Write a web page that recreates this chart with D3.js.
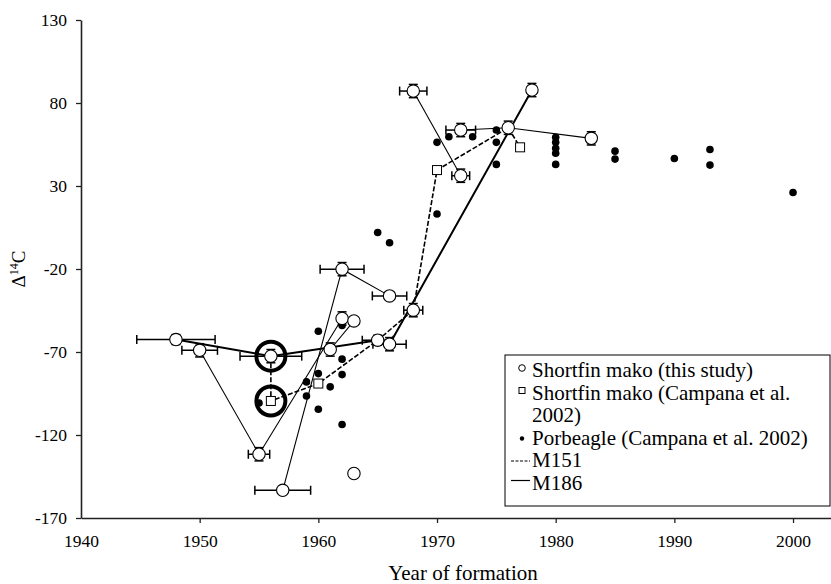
<!DOCTYPE html>
<html>
<head>
<meta charset="utf-8">
<script src="https://cdn.jsdelivr.net/npm/d3@7"></script>
<style>
  body { margin: 0; background: #fff; }
  #chart { width: 831px; height: 584px; }
  svg text { font-family: "Liberation Serif", "Times New Roman", serif !important; fill: #000; }
</style>
</head>
<body>
<div id="chart"></div>
<script>
// Shortfin mako (this study): open circles with error bars
const mako_year = [1948, 1950, 1956, 1955, 1957, 1962, 1966, 1962, 1963, 1961, 1965, 1966, 1963, 1968, 1968, 1978, 1972, 1976, 1972, 1983];
const mako_d14c = [-62.5, -69, -72.5, -131.6, -153.3, -20.1, -36.2, -49.8, -51.3, -68.5, -62.9, -65.3, -143.2, -44.8, 87.2, 87.8, 63.7, 65.1, 36.2, 58.7];
const mako_xerr = [3.3, 1.5, 2.6, 0.9, 2.35, 1.85, 1.45, 0, 0, 0, 1.3, 1.4, 0, 0.8, 1.15, 0, 1.25, 0, 0.75, 0];
const mako_yerr = [3, 4, 4, 4, 0, 4, 0, 4, 0, 4, 3, 4, 0, 4, 4, 4, 4, 4, 4, 4];

// Shortfin mako (Campana et al. 2002): open squares
const campana_year = [1956, 1960, 1970, 1977];
const campana_d14c = [-99.5, -89, 39.6, 53.3];

// Porbeagle (Campana et al. 2002): filled dots
const porbeagle_year = [1955, 1959, 1959, 1960, 1960, 1960, 1961, 1962, 1962, 1962, 1962, 1965, 1966, 1970, 1970, 1971, 1973, 1975, 1975, 1975, 1980, 1980, 1980, 1980, 1980, 1985, 1985, 1990, 1993, 1993, 2000];
const porbeagle_d14c = [-100.7, -88, -96.5, -57.5, -83, -104.5, -91, -54, -74.3, -83.6, -113.7, 2, -4.2, 13.1, 56.3, 59.7, 59.7, 63.7, 56.3, 43, 59.3, 56.3, 52.7, 49.7, 43, 51, 46.2, 46.6, 52, 42.6, 26.1];

// series drawn as lines
const m151_year = [1956, 1956, 1960, 1965, 1968, 1970, 1976, 1977];
const m151_d14c = [-72.5, -99.5, -89, -62.9, -44.8, 39.6, 65.1, 53.3];
const m186_year = [1948, 1956, 1965, 1966, 1978];
const m186_d14c = [-62.5, -72.5, -62.9, -65.3, 87.8];

// other vertebrae, as index lists into the mako arrays
const vertebra_links = [[1, 3, 7], [4, 5, 6], [9, 8], [14, 18], [16, 17, 19]];

// highlighted points (thick rings)
const ring_year = [1956, 1956];
const ring_d14c = [-72.5, -99.5];

const x_ticks = [1940, 1950, 1960, 1970, 1980, 1990, 2000];
const y_ticks = [-170, -120, -70, -20, 30, 80, 130];

const legend_items = [
  { lines: ["Shortfin mako (this study)"], kind: "circle" },
  { lines: ["Shortfin mako (Campana et al.", "2002)"], kind: "square" },
  { lines: ["Porbeagle (Campana et al. 2002)"], kind: "dot" },
  { lines: ["M151"], kind: "m151" },
  { lines: ["M186"], kind: "m186" }
];

const width = 831, height = 584;
const margin = { left: 81, right: 0, top: 20, bottom: 66 };
const innerW = width - margin.left - margin.right;
const innerH = height - margin.top - margin.bottom;

const svg = d3.select("#chart").append("svg")
  .attr("width", width)
  .attr("height", height);

const chart = svg.append("g")
  .attr("transform", `translate(${margin.left},${margin.top})`);

const x = d3.scaleLinear().domain([1940, 2003.2]).range([0, innerW]);
const y = d3.scaleLinear().domain([-170, 130]).range([innerH, 0]);

// axes (plain hyphen for negatives, like the original)
const axis_x = chart.append("g")
  .attr("transform", `translate(0,${innerH})`)
  .call(d3.axisBottom(x).tickValues(x_ticks).tickFormat(d => String(d)).tickSize(5).tickSizeOuter(0).tickPadding(12));
const axis_y = chart.append("g")
  .call(d3.axisLeft(y).tickValues(y_ticks).tickFormat(d => String(d)).tickSize(5).tickSizeOuter(0).tickPadding(9));

[axis_x, axis_y].forEach(a => {
  a.attr("font-family", null).attr("font-size", null);
  a.select(".domain").attr("stroke", "#222").attr("stroke-width", 1.6);
  a.selectAll(".tick line").attr("stroke", "#222").attr("stroke-width", 1.3);
  a.selectAll(".tick text").style("font-size", "17.5px").attr("fill", "#000");
});
axis_x.selectAll(".tick").filter(d => d === 1940).select("line").remove();

chart.append("text")
  .attr("x", 463 - margin.left)
  .attr("y", innerH + 62)
  .attr("text-anchor", "middle")
  .style("font-size", "21px")
  .text("Year of formation");

const y_label = svg.append("text")
  .attr("transform", `translate(25,${margin.top + y(-20)}) rotate(-90)`)
  .attr("text-anchor", "middle")
  .style("font-size", "19px");
y_label.append("tspan").text("\u0394");
y_label.append("tspan").attr("dy", -7).style("font-size", "12px").text("14");
y_label.append("tspan").attr("dy", 7).text("C");

const draw_area = chart.append("g");
const line = d3.line().x(d => x(d[0])).y(d => y(d[1]));

// vertebra lines
vertebra_links.forEach(idx => {
  draw_area.append("path")
    .datum(idx.map(i => [mako_year[i], mako_d14c[i]]))
    .attr("d", line)
    .attr("fill", "none")
    .attr("stroke", "#000")
    .attr("stroke-width", 1.1);
});

draw_area.append("path")
  .datum(m186_year.map((v, i) => [v, m186_d14c[i]]))
  .attr("d", line)
  .attr("fill", "none")
  .attr("stroke", "#000")
  .attr("stroke-width", 2);

draw_area.append("path")
  .datum(m151_year.map((v, i) => [v, m151_d14c[i]]))
  .attr("d", line)
  .attr("fill", "none")
  .attr("stroke", "#000")
  .attr("stroke-width", 1.6)
  .attr("stroke-dasharray", "5,2");

// porbeagle dots
draw_area.selectAll(".porbeagle")
  .data(porbeagle_year.map((v, i) => [v, porbeagle_d14c[i]]))
  .join("circle")
  .attr("class", "porbeagle")
  .attr("cx", d => x(d[0]))
  .attr("cy", d => y(d[1]))
  .attr("r", 3.8)
  .attr("fill", "#000");

// error bars
const mako = mako_year.map((v, i) => ({ year: v, d14c: mako_d14c[i], xe: mako_xerr[i], ye: mako_yerr[i] }));
const err = draw_area.append("g").attr("stroke", "#000").attr("stroke-width", 1.5);
mako.filter(d => d.xe > 0).forEach(d => {
  const cy = y(d.d14c), x0 = x(d.year - d.xe), x1 = x(d.year + d.xe);
  err.append("line").attr("x1", x0).attr("x2", x1).attr("y1", cy).attr("y2", cy);
  err.append("line").attr("x1", x0).attr("x2", x0).attr("y1", cy - 4.5).attr("y2", cy + 4.5);
  err.append("line").attr("x1", x1).attr("x2", x1).attr("y1", cy - 4.5).attr("y2", cy + 4.5);
});
mako.filter(d => d.ye > 0).forEach(d => {
  const cx = x(d.year), y0 = y(d.d14c - d.ye), y1 = y(d.d14c + d.ye);
  err.append("line").attr("x1", cx).attr("x2", cx).attr("y1", y0).attr("y2", y1);
  err.append("line").attr("x1", cx - 4.5).attr("x2", cx + 4.5).attr("y1", y0).attr("y2", y0);
  err.append("line").attr("x1", cx - 4.5).attr("x2", cx + 4.5).attr("y1", y1).attr("y2", y1);
});

// campana squares
draw_area.selectAll(".campana")
  .data(campana_year.map((v, i) => [v, campana_d14c[i]]))
  .join("rect")
  .attr("class", "campana")
  .attr("x", d => x(d[0]) - 4.5)
  .attr("y", d => y(d[1]) - 4.5)
  .attr("width", 9)
  .attr("height", 9)
  .attr("fill", "#fff")
  .attr("stroke", "#000")
  .attr("stroke-width", 1);

// mako circles
draw_area.selectAll(".mako")
  .data(mako)
  .join("circle")
  .attr("class", "mako")
  .attr("cx", d => x(d.year))
  .attr("cy", d => y(d.d14c))
  .attr("r", 6.2)
  .attr("fill", "#fff")
  .attr("stroke", "#000")
  .attr("stroke-width", 1.1);

// thick rings
draw_area.selectAll(".ring")
  .data(ring_year.map((v, i) => [v, ring_d14c[i]]))
  .join("circle")
  .attr("class", "ring")
  .attr("cx", d => x(d[0]))
  .attr("cy", d => y(d[1]))
  .attr("r", 14.5)
  .attr("fill", "none")
  .attr("stroke", "#000")
  .attr("stroke-width", 4);

// legend
const legend = svg.append("g").attr("transform", "translate(505,355)");
legend.append("rect")
  .attr("width", 325).attr("height", 151)
  .attr("fill", "#fff").attr("stroke", "#000").attr("stroke-width", 1);

let row = 0;
legend_items.forEach(item => {
  const base = 22 + row * 22.5;
  const my = base - 6;
  const g = legend.append("g");
  if (item.kind === "circle") {
    g.append("circle").attr("cx", 17).attr("cy", my - 3).attr("r", 3.3).attr("fill", "#fff").attr("stroke", "#000");
  } else if (item.kind === "square") {
    g.append("rect").attr("x", 14).attr("y", my - 6).attr("width", 6).attr("height", 6).attr("fill", "#fff").attr("stroke", "#000");
  } else if (item.kind === "dot") {
    g.append("circle").attr("cx", 17).attr("cy", my).attr("r", 2.2).attr("fill", "#000");
  } else if (item.kind === "m151") {
    g.append("line").attr("x1", 6).attr("x2", 25).attr("y1", my).attr("y2", my)
      .attr("stroke", "#000").attr("stroke-width", 1.2).attr("stroke-dasharray", "3,1.5");
  } else {
    g.append("line").attr("x1", 6).attr("x2", 25).attr("y1", my - 3).attr("y2", my - 3)
      .attr("stroke", "#000").attr("stroke-width", 1.2);
  }
  item.lines.forEach((t, k) => {
    g.append("text")
      .attr("x", 27)
      .attr("y", base + k * 22.5)
      .style("font-size", "21px")
      .text(t);
  });
  row += item.lines.length;
});
</script>
</body>
</html>
